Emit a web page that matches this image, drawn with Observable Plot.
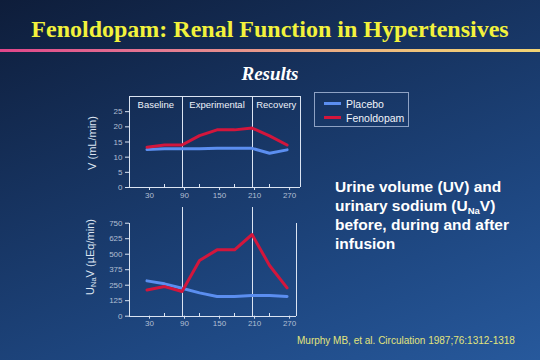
<!DOCTYPE html>
<html>
<head>
<meta charset="utf-8">
<script src="https://cdn.jsdelivr.net/npm/d3@7"></script>
<script src="https://cdn.jsdelivr.net/npm/@observablehq/plot@0.6"></script>
<style>
  html, body { margin: 0; padding: 0; }
  #slide {
    position: relative; width: 540px; height: 360px; overflow: hidden;
    background: linear-gradient(158deg, #0e1d3a 0%, #16325e 35%, #1e4781 70%, #27599c 100%);
    font-family: "Liberation Sans", Arial, sans-serif;
  }
  .abs { position: absolute; }
  #title { left: 0; width: 540px; top: 17px; text-align: center; font: bold 24px/24px "Liberation Serif", "Times New Roman", serif; color: #f2f23c; white-space: nowrap; }
  #rule { left: 0; top: 49px; width: 540px; height: 3px; background: linear-gradient(to right, #e0468a 0%, #e47a92 30%, #e8a487 55%, #efc47a 78%, #f2d474 100%); }
  #sub { left: 0; width: 540px; top: 64px; text-align: center; font: italic bold 19px/19px "Liberation Serif", "Times New Roman", serif; color: #ffffff; }
  .ytitle { font-size: 11px; color: #dde5f2; white-space: nowrap; transform: translate(-50%, -50%) rotate(-90deg); line-height: 12px; }
  .ytitle sub { font-size: 7.5px; vertical-align: -2px; }
  #note { left: 335px; top: 177px; font: bold 15.5px/19px "Liberation Sans", Arial, sans-serif; color: #ffffff; white-space: nowrap; }
  #note sub { font-size: 9.5px; vertical-align: -3px; line-height: 0; }
  #cite { left: 297px; top: 334.5px; font: 10px/12px "Liberation Sans", Arial, sans-serif; color: #e2e47c; white-space: nowrap; }
  #legend { left: 314px; top: 92px; width: 93px; height: 33px; border: 1px solid #8ea2c4; }
  .lrow { position: absolute; left: 0; height: 14px; width: 93px; }
  .lline { position: absolute; left: 9px; top: 5.5px; width: 17px; height: 3px; }
  .ltext { position: absolute; left: 31px; top: 0; font: 10.5px/14px "Liberation Sans", Arial, sans-serif; color: #f0f4fa; white-space: nowrap; }
  .plot { position: absolute; }
</style>
</head>
<body>
<div id="slide">
  <div id="title" class="abs">Fenoldopam: Renal Function in Hypertensives</div>
  <div id="rule" class="abs"></div>
  <div id="sub" class="abs">Results</div>
  <div id="legend" class="abs"></div>
  <div class="abs ytitle" style="left:91.7px; top:143px;">V (mL/min)</div>
  <div class="abs ytitle" style="left:91.7px; top:257px;">U<sub>Na</sub>V (µEq/min)</div>
  <div id="note" class="abs">Urine volume (UV) and<br>urinary sodium (U<sub>Na</sub>V)<br>before, during and after<br>infusion</div>
  <div id="cite" class="abs">Murphy MB, et al. Circulation 1987;76:1312-1318</div>
</div>
<script>
// ---- data ----
const times = [30, 60, 90, 120, 150, 180, 210, 240, 270];
const series = ["Placebo", "Fenoldopam"];
const seriesColors = ["#5b8ef0", "#d3163c"];
const vPlacebo    = [12.5, 12.8, 12.8, 12.8, 12.9, 12.9, 12.9, 11.3, 12.4];
const vFenoldopam = [13.3, 14.0, 14.0, 17.1, 19.0, 19.0, 19.6, 17.0, 14.0];
const uPlacebo    = [285, 261, 226, 188, 159, 159, 167, 167, 159];
const uFenoldopam = [212, 239, 199, 449, 535, 535, 659, 409, 228];
const periods = ["Baseline", "Experimental", "Recovery"];
const periodBounds = [0, 90, 210, 293];
const xTicksMajor = [30, 90, 150, 210, 270];
const xTicksMinor = [60, 120, 180, 240];
const vTicks = [0, 5, 10, 15, 20, 25];
const uTicks = [0, 125, 250, 375, 500, 625, 750];

const frameColor = "#dbe4f2";
const labelColor = "#b2bfd3";
const crisp = {stroke: frameColor, strokeWidth: 1, shapeRendering: "crispEdges"};
const slide = document.getElementById("slide");

const vRows = times.flatMap((t, i) => [
  {t, v: vPlacebo[i], s: series[0]},
  {t, v: vFenoldopam[i], s: series[1]}
]);
const uRows = times.flatMap((t, i) => [
  {t, v: uPlacebo[i], s: series[0]},
  {t, v: uFenoldopam[i], s: series[1]}
]);

const xMax = periodBounds[3];

function axes(yTicks, tickUp) {
  return [
    Plot.axisY(yTicks, {tickSize: 4, tickPadding: 3, fontSize: 8, stroke: frameColor, fill: labelColor, label: null}),
    Plot.axisX(xTicksMajor, {tickSize: 3, tickPadding: 1.5, fontSize: 8, dx: 2.5, stroke: frameColor, fill: labelColor, label: null}),
    Plot.ruleX(xTicksMinor, {y1: 0, y2: tickUp, ...crisp})
  ];
}

// ---- top chart: V ----
const chartV = Plot.plot({
  width: 230, height: 115,
  marginLeft: 49, marginRight: 10, marginTop: 6, marginBottom: 18,
  x: {domain: [0, xMax], axis: null},
  y: {domain: [0, 30], axis: null},
  color: {domain: series, range: seriesColors},
  style: {background: "transparent", overflow: "visible", fontFamily: "Liberation Sans, Arial, sans-serif"},
  marks: [
    Plot.ruleY([0, 30], crisp),
    Plot.ruleX(periodBounds, crisp),
    ...axes(vTicks, 1),
    Plot.text(periods, {
      x: (d, i) => (periodBounds[i] + periodBounds[i + 1]) / 2,
      y: 27.1, text: d => d, fill: "#eef2fa", fontSize: 9.5
    }),
    Plot.line(vRows, {x: "t", y: "v", z: "s", stroke: "s", strokeWidth: 3, strokeLinejoin: "round"})
  ]
});
chartV.classList.add("plot");
chartV.style.left = "80px"; chartV.style.top = "90px";
slide.appendChild(chartV);

// ---- bottom chart: UNaV ----
const chartU = Plot.plot({
  width: 230, height: 132,
  marginLeft: 49, marginRight: 10, marginTop: 6.6, marginBottom: 16.3,
  x: {domain: [0, xMax], axis: null},
  y: {domain: [0, 880], axis: null},
  color: {domain: series, range: seriesColors},
  style: {background: "transparent", overflow: "visible", fontFamily: "Liberation Sans, Arial, sans-serif"},
  marks: [
    Plot.ruleY([0], {x1: 0, x2: 286, ...crisp}),
    Plot.ruleX([0], {y1: 0, y2: 750, ...crisp}),
    Plot.ruleX([286], {y1: 0, y2: 750, ...crisp}),
    Plot.ruleX([periodBounds[1], periodBounds[2]], crisp),
    ...axes(uTicks, 24),
    Plot.line(uRows, {x: "t", y: "v", z: "s", stroke: "s", strokeWidth: 3, strokeLinejoin: "round"})
  ]
});
chartU.classList.add("plot");
chartU.style.left = "80px"; chartU.style.top = "200px";
slide.appendChild(chartU);

// ---- legend ----
const legendBox = document.getElementById("legend");
series.forEach((name, i) => {
  const row = document.createElement("div");
  row.className = "lrow";
  row.style.top = (3.5 + i * 14) + "px";
  const ln = document.createElement("div");
  ln.className = "lline";
  ln.style.background = seriesColors[i];
  const tx = document.createElement("div");
  tx.className = "ltext";
  tx.textContent = name;
  row.appendChild(ln); row.appendChild(tx);
  legendBox.appendChild(row);
});
</script>
</body>
</html>
